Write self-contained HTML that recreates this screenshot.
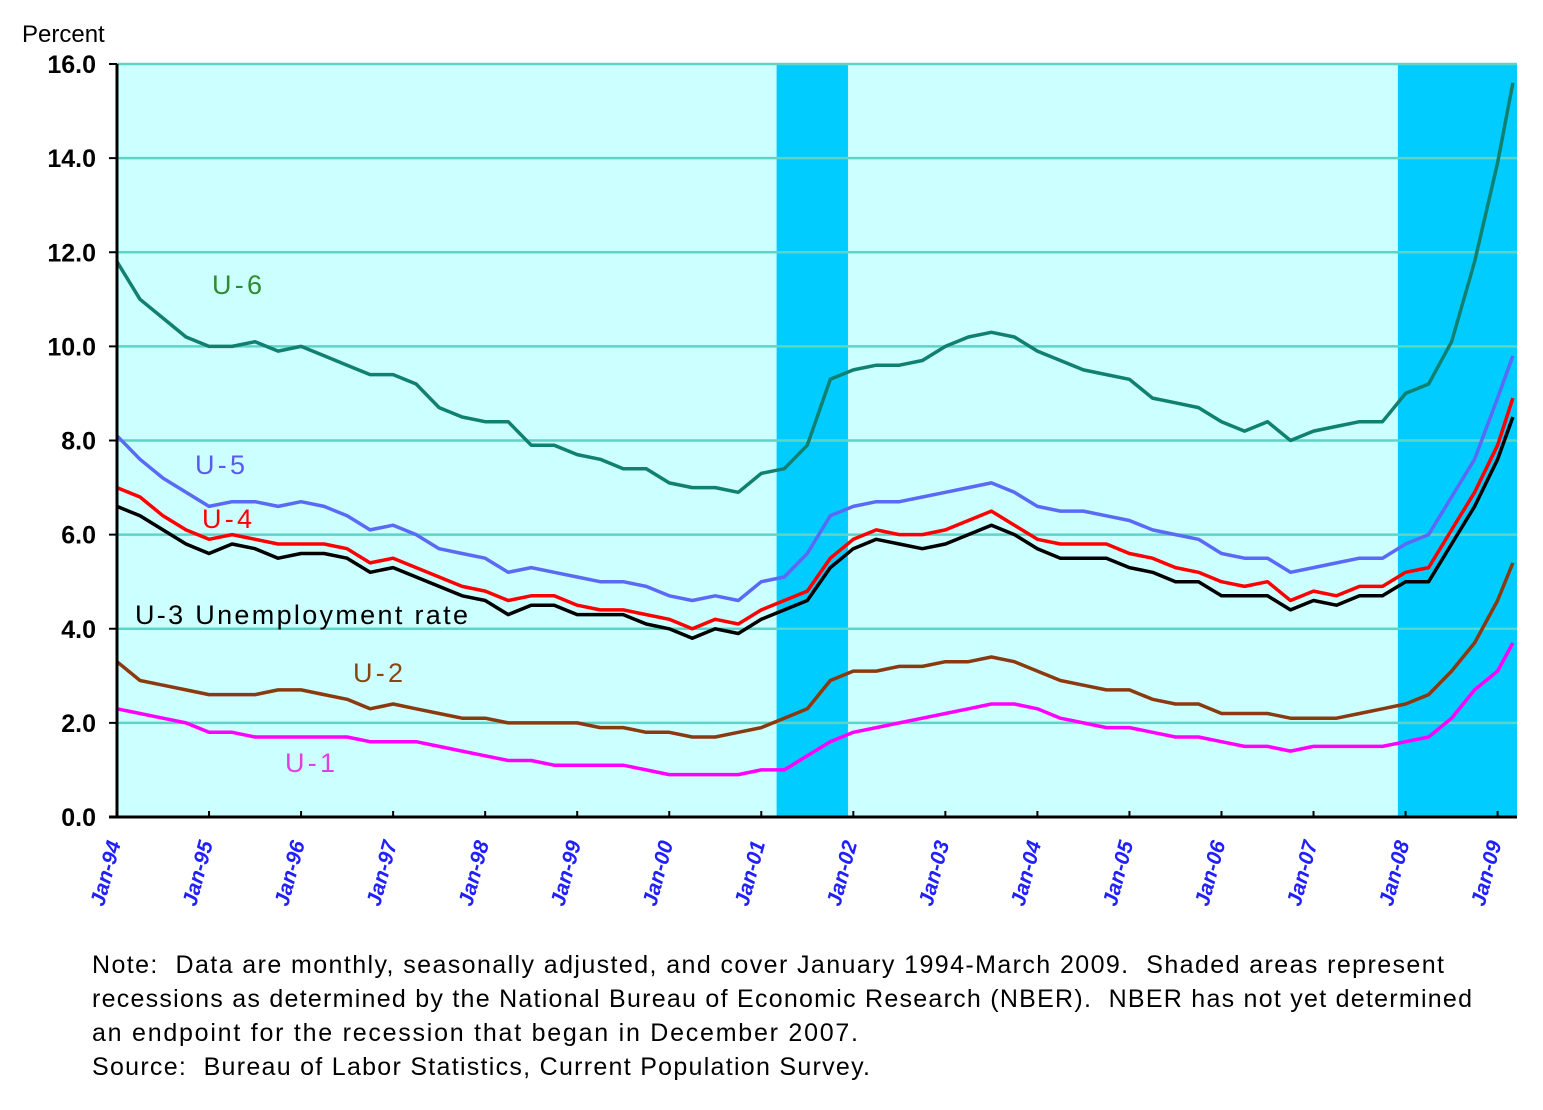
<!DOCTYPE html>
<html><head><meta charset="utf-8"><style>
body{margin:0;background:#fff;}
svg text{font-family:"Liberation Sans","DejaVu Sans",sans-serif;}
</style></head><body>
<svg id="chart" width="1543" height="1105" viewBox="0 0 1543 1105">
<g id="bg"></g><g id="grid"></g><g id="lines"></g><g id="axes"></g>
<text x="22" y="42" font-size="24" fill="#000">Percent</text>
<text x="212" y="294" font-size="27" fill="#2e8b2e" textLength="50">U-6</text>
<text x="195" y="474" font-size="27" fill="#5a5af0" textLength="50">U-5</text>
<text x="202" y="528" font-size="27" fill="#ff0000" textLength="50">U-4</text>
<text x="135" y="624" font-size="27" fill="#000" textLength="333">U-3 Unemployment rate</text>
<text x="353" y="682" font-size="27" fill="#8b4513" textLength="50">U-2</text>
<text x="285" y="772" font-size="27" fill="#e040e0" textLength="50">U-1</text>
<g font-size="25" fill="#000">
<text x="92" y="973" textLength="1352" xml:space="preserve">Note:  Data are monthly, seasonally adjusted, and cover January 1994-March 2009.  Shaded areas represent</text>
<text x="92" y="1007" textLength="1380" xml:space="preserve">recessions as determined by the National Bureau of Economic Research (NBER).  NBER has not yet determined</text>
<text x="92" y="1041" textLength="766">an endpoint for the recession that began in December 2007.</text>
<text x="92" y="1075" textLength="778" xml:space="preserve">Source:  Bureau of Labor Statistics, Current Population Survey.</text>
</g>
</svg>
<script>
const months=[0,3,6,9,12,15,18,21,24,27,30,33,36,39,42,45,48,51,54,57,60,63,66,69,72,75,78,81,84,87,90,93,96,99,102,105,108,111,114,117,120,123,126,129,132,135,138,141,144,147,150,153,156,159,162,165,168,171,174,177,180,182];
const u6=[11.8,11.0,10.6,10.2,10.0,10.0,10.1,9.9,10.0,9.8,9.6,9.4,9.4,9.2,8.7,8.5,8.4,8.4,7.9,7.9,7.7,7.6,7.4,7.4,7.1,7.0,7.0,6.9,7.3,7.4,7.9,9.3,9.5,9.6,9.6,9.7,10.0,10.2,10.3,10.2,9.9,9.7,9.5,9.4,9.3,8.9,8.8,8.7,8.4,8.2,8.4,8.0,8.2,8.3,8.4,8.4,9.0,9.2,10.1,11.8,13.9,15.6];
const u5=[8.1,7.6,7.2,6.9,6.6,6.7,6.7,6.6,6.7,6.6,6.4,6.1,6.2,6.0,5.7,5.6,5.5,5.2,5.3,5.2,5.1,5.0,5.0,4.9,4.7,4.6,4.7,4.6,5.0,5.1,5.6,6.4,6.6,6.7,6.7,6.8,6.9,7.0,7.1,6.9,6.6,6.5,6.5,6.4,6.3,6.1,6.0,5.9,5.6,5.5,5.5,5.2,5.3,5.4,5.5,5.5,5.8,6.0,6.8,7.6,8.9,9.8];
const u4=[7.0,6.8,6.4,6.1,5.9,6.0,5.9,5.8,5.8,5.8,5.7,5.4,5.5,5.3,5.1,4.9,4.8,4.6,4.7,4.7,4.5,4.4,4.4,4.3,4.2,4.0,4.2,4.1,4.4,4.6,4.8,5.5,5.9,6.1,6.0,6.0,6.1,6.3,6.5,6.2,5.9,5.8,5.8,5.8,5.6,5.5,5.3,5.2,5.0,4.9,5.0,4.6,4.8,4.7,4.9,4.9,5.2,5.3,6.1,6.9,7.9,8.9];
const u3=[6.6,6.4,6.1,5.8,5.6,5.8,5.7,5.5,5.6,5.6,5.5,5.2,5.3,5.1,4.9,4.7,4.6,4.3,4.5,4.5,4.3,4.3,4.3,4.1,4.0,3.8,4.0,3.9,4.2,4.4,4.6,5.3,5.7,5.9,5.8,5.7,5.8,6.0,6.2,6.0,5.7,5.5,5.5,5.5,5.3,5.2,5.0,5.0,4.7,4.7,4.7,4.4,4.6,4.5,4.7,4.7,5.0,5.0,5.8,6.6,7.6,8.5];
const u2=[3.3,2.9,2.8,2.7,2.6,2.6,2.6,2.7,2.7,2.6,2.5,2.3,2.4,2.3,2.2,2.1,2.1,2.0,2.0,2.0,2.0,1.9,1.9,1.8,1.8,1.7,1.7,1.8,1.9,2.1,2.3,2.9,3.1,3.1,3.2,3.2,3.3,3.3,3.4,3.3,3.1,2.9,2.8,2.7,2.7,2.5,2.4,2.4,2.2,2.2,2.2,2.1,2.1,2.1,2.2,2.3,2.4,2.6,3.1,3.7,4.6,5.4];
const u1=[2.3,2.2,2.1,2.0,1.8,1.8,1.7,1.7,1.7,1.7,1.7,1.6,1.6,1.6,1.5,1.4,1.3,1.2,1.2,1.1,1.1,1.1,1.1,1.0,0.9,0.9,0.9,0.9,1.0,1.0,1.3,1.6,1.8,1.9,2.0,2.1,2.2,2.3,2.4,2.4,2.3,2.1,2.0,1.9,1.9,1.8,1.7,1.7,1.6,1.5,1.5,1.4,1.5,1.5,1.5,1.5,1.6,1.7,2.1,2.7,3.1,3.7];
const yTicks=[0,2,4,6,8,10,12,14,16];
const yearLabels=["Jan-94","Jan-95","Jan-96","Jan-97","Jan-98","Jan-99","Jan-00","Jan-01","Jan-02","Jan-03","Jan-04","Jan-05","Jan-06","Jan-07","Jan-08","Jan-09"];
const recStart=[86,167];
const recEnd=[95.3,184.5];

const NS="http://www.w3.org/2000/svg";
const L=117,R=1517,T=64,B=817;
const x=m=>L+m*7.67;
const y=v=>B-(v/16)*(B-T);
function mk(tag,attrs,parent){const e=document.createElementNS(NS,tag);for(const k in attrs)e.setAttribute(k,attrs[k]);document.getElementById(parent).appendChild(e);return e;}

let e=mk('rect',{x:L,y:T,width:R-L,height:B-T,fill:'#ccffff'},'bg');


recStart.forEach((s,i)=>{
 const r=mk('rect',{x:x(s),y:T,width:Math.min(R,x(recEnd[i]))-x(s),height:B-T,fill:'#00ccff'},'bg');
 
 
});
yTicks.forEach(v=>{
 if(v>0){const g=mk('line',{x1:L,x2:R,y1:y(v),y2:y(v),stroke:'#5fd3c8','stroke-width':2.5},'grid');
 
 }
 const t=mk('text',{x:96,y:y(v)+9,'font-size':25,'font-weight':'bold','text-anchor':'end',fill:'#000'},'axes');
 t.textContent=v.toFixed(1);
 
 
 const tk=mk('line',{x1:L-8,x2:L,y1:y(v),y2:y(v),stroke:'#000','stroke-width':2},'axes');
 
 
});
const series=[[u6,'#108070'],[u5,'#5a6af5'],[u2,'#8b3a0f'],[u1,'#ff00ff'],[u4,'#ff0000'],[u3,'#000000']];
const names=['line-u6','line-u5','line-u2','line-u1','line-u4','line-u3'];
series.forEach(([d,c],i)=>{
 const p=mk('polyline',{points:d.map((v,j)=>x(months[j]).toFixed(1)+','+y(v).toFixed(1)).join(' '),fill:'none',stroke:c,'stroke-width':3.5,'stroke-linejoin':'round'},'lines');
 
 
});
let ax=mk('line',{x1:L,x2:L,y1:T,y2:B,stroke:'#000','stroke-width':3},'axes');


ax=mk('line',{x1:L-8,x2:R,y1:B,y2:B,stroke:'#000','stroke-width':3},'axes');


yearLabels.forEach((lab,i)=>{
 const xx=x(i*12);
 const tk=mk('line',{x1:xx,x2:xx,y1:B-6,y2:B,stroke:'#000','stroke-width':2},'axes');
 
 
 const t=mk('text',{x:0,y:0,'font-size':21,'font-style':'italic','font-weight':'bold',fill:'#2020ff','text-anchor':'end',transform:`translate(${xx+4},${B+26}) rotate(-75)`},'axes');
 t.textContent=lab;
 
 
});
</script>
</body></html>
